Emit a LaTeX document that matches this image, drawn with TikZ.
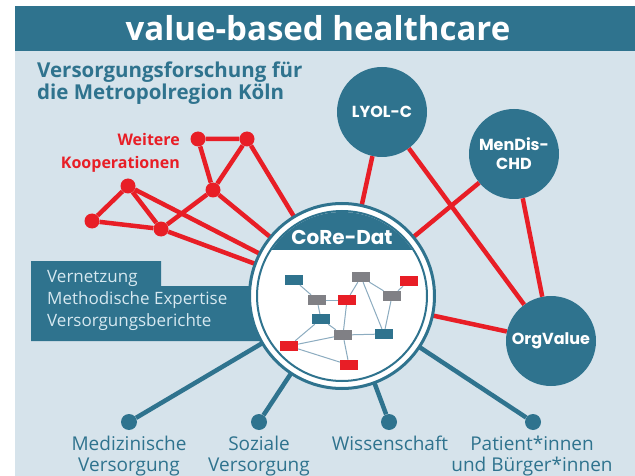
\documentclass[tikz,border=0pt]{standalone}
\usepackage{fontspec}
\setmainfont{Open Sans}
\newfontfamily\geofont{Poppins}
\usetikzlibrary{positioning}
\definecolor{vbteal}{RGB}{47,115,142}
\definecolor{vbred}{RGB}{232,30,38}
\definecolor{vbback}{RGB}{214,227,235}
\definecolor{vbgray}{RGB}{128,128,133}
\definecolor{vbedge}{RGB}{140,172,192}
\definecolor{vbpale}{RGB}{214,232,240}
\tikzstyle{project} = [circle, fill=vbteal, minimum size=90pt, inner sep=0pt, text=white, align=center, font=\geofont\bfseries\fontsize{16}{19}\selectfont]
\tikzstyle{coop} = [circle, fill=vbred, minimum size=15pt, inner sep=0pt]
\tikzstyle{partner} = [circle, fill=vbteal, minimum size=16pt, inner sep=0pt]
\tikzstyle{redlink} = [vbred, line width=4.5pt]
\tikzstyle{teallink} = [vbteal, line width=4.5pt]
\tikzstyle{datbox} = [rectangle, minimum width=18pt, minimum height=10pt, inner sep=0pt]
\tikzstyle{datlink} = [vbedge, line width=1pt]
\tikzstyle{partnertext} = [text=vbteal, align=center, anchor=north, inner sep=0pt, font=\fontsize{19}{21}\selectfont]

\begin{document}
\begin{tikzpicture}[x=1pt, y=-1pt]
\useasboundingbox (0,0) rectangle (635,476);
\fill[vbback] (15,6) rectangle (635,476);
\fill[vbteal] (15,6) rectangle (635,51);
\node (title) [text=white, font=\bfseries\fontsize{33}{36}\selectfont] at (318,28) {value-based healthcare};
\node (subtitle) [anchor=north west, align=left, inner sep=0pt, text=vbteal, font=\bfseries\fontsize{20.5}{21.5}\selectfont] at (37,62) {Versorgungsforschung für\\die Metropolregion Köln};

% weitere Kooperationen
\node (coopA) [coop] at (198,139) {};
\node (coopB) [coop] at (247,139) {};
\node (coopC) [coop] at (213,190) {};
\node (coopD) [coop] at (128,186) {};
\node (coopE) [coop] at (92,221) {};
\node (coopF) [coop] at (161,229) {};
\node (cooptext) [anchor=north east, align=right, inner sep=0pt, text=vbred, font=\bfseries\fontsize{16}{23}\selectfont] at (180,133) {Weitere\\Kooperationen};

\node (core) [circle, minimum size=185pt, inner sep=0pt] at (342,296) {};
\node (lyol) [project] at (382,112) {LYOL-C};
\node (mendis) [project] at (514,154) {MenDis-\\CHD};
\node (orgvalue) [project] at (551,341) {OrgValue};

\draw [redlink] (coopA) -- (coopB) -- (coopC) -- (coopA);
\draw [redlink] (coopD) -- (coopE) -- (coopF) -- (coopD);
\draw [redlink] (coopF) -- (coopC);
\draw [redlink] (coopB) -- (core.center);
\draw [redlink] (coopC) -- (core.center);
\draw [redlink] (coopD) -- (core.center);
\draw [redlink] (coopF) -- (core.center);

\draw [redlink] (lyol) -- (core.center);
\draw [redlink] (lyol) -- (orgvalue);
\draw [redlink] (mendis) -- (core.center);
\draw [redlink] (mendis) -- (orgvalue);
\draw [redlink] (orgvalue) -- (core.center);

% Partner unten
\node (med) [partner] at (129,422) {};
\node (soz) [partner] at (259,422) {};
\node (wiss) [partner] at (389,422) {};
\node (pat) [partner] at (533,422) {};
\draw [teallink] (med) -- (core.center);
\draw [teallink] (soz) -- (core.center);
\draw [teallink] (wiss) -- (core.center);
\draw [teallink] (pat) -- (core.center);
\node [partnertext] at (129,436) {Medizinische\\Versorgung};
\node [partnertext] at (259,436) {Soziale\\Versorgung};
\node [partnertext] at (390,436) {Wissenschaft};
\node [partnertext] at (532,436) {Patient*innen\\und Bürger*innen};

% Leistungen
\fill[vbteal] (31,261) -- (161,261) -- (161,286) -- (300,286) -- (300,341) -- (31,341) -- cycle;
\node (skills) [anchor=north west, align=left, inner sep=0pt, text=vbpale, font=\fontsize{17}{22}\selectfont] at (47,270) {Vernetzung\\Methodische Expertise\\Versorgungsberichte};

% CoRe-Dat
\fill[white, draw=vbteal, line width=3pt] (core.center) circle (92.5);
\fill[white, draw=vbteal, line width=2pt] (core.center) circle (85);
\begin{scope}
\clip (core.center) circle (84);
\fill[vbteal] (250,200) rectangle (440,250);
\end{scope}
\node (coretext) [text=white, font=\geofont\bfseries\fontsize{20}{22}\selectfont] at (342,237) {CoRe-Dat};

\node (t1) [datbox, fill=vbteal] at (294,280) {};
\node (g1) [datbox, fill=vbgray] at (317,300) {};
\node (r1) [datbox, fill=vbred] at (347,300) {};
\node (g2) [datbox, fill=vbgray] at (361,277) {};
\node (r2) [datbox, fill=vbred] at (409,281) {};
\node (g3) [datbox, fill=vbgray] at (392,296) {};
\node (t2) [datbox, fill=vbteal] at (321,319) {};
\node (g4) [datbox, fill=vbgray] at (343,335) {};
\node (t3) [datbox, fill=vbteal] at (384,334) {};
\node (r3) [datbox, fill=vbred] at (289,346) {};
\node (r4) [datbox, fill=vbred] at (349,365) {};
\draw [datlink] (t1) -- (g1);
\draw [datlink] (g1) -- (r1);
\draw [datlink] (g1) -- (t2);
\draw [datlink] (t2) -- (g4);
\draw [datlink] (t2) -- (r3);
\draw [datlink] (r1) -- (g4);
\draw [datlink] (r1) -- (g2);
\draw [datlink] (g2) -- (g3);
\draw [datlink] (g2) -- (t3);
\draw [datlink] (g3) -- (r2);
\draw [datlink] (g3) -- (t3);
\draw [datlink] (g4) -- (t3);
\draw [datlink] (g4) -- (r4);
\draw [datlink] (r3) -- (g4);
\draw [datlink] (r3) -- (r4);
\end{tikzpicture}
\end{document}
